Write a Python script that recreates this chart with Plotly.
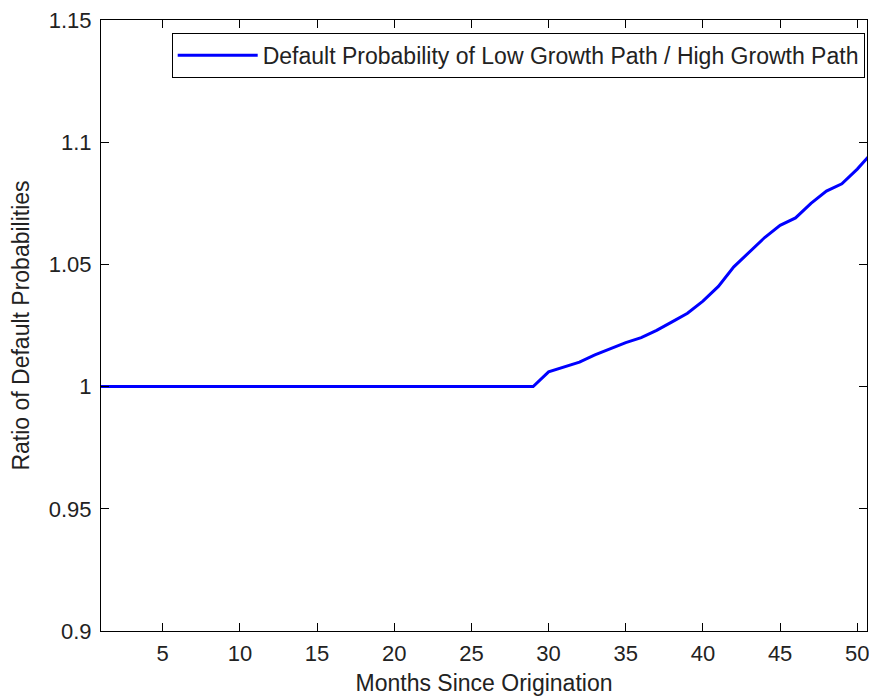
import plotly.graph_objects as go

months = list(range(1, 52))
ratio = [1.0] * 29 + [
    1.006, 1.008, 1.010, 1.013, 1.0155, 1.018, 1.020, 1.023, 1.0265, 1.030,
    1.035, 1.041, 1.049, 1.055, 1.061, 1.066, 1.069, 1.075, 1.080, 1.083,
    1.089, 1.096,
]
series_name = "Default Probability of Low Growth Path / High Growth Path"
x_ticks = [5, 10, 15, 20, 25, 30, 35, 40, 45, 50]
y_ticks = [0.9, 0.95, 1.0, 1.05, 1.1, 1.15]
y_tick_text = ["0.9", "0.95", "1", "1.05", "1.1", "1.15"]

FONT = "Liberation Sans, Arial, sans-serif"

fig = go.Figure()
fig.add_trace(go.Scatter(
    x=months, y=ratio, mode="lines", name=series_name,
    line=dict(color="#0000FF", width=3),
))

axis_common = dict(
    showgrid=False, zeroline=False, showline=True, linecolor="#000",
    linewidth=1, mirror="ticks", ticks="inside", ticklen=8,
    tickcolor="#000", tickwidth=1, ticklabeloverflow="allow",
    tickfont=dict(family=FONT, size=22, color="#222"),
)

fig.update_layout(
    width=869, height=696,
    margin=dict(l=101, r=0, t=20, b=65),
    plot_bgcolor="white", paper_bgcolor="white",
    font=dict(family=FONT, size=23, color="#222"),
    showlegend=True,
    legend=dict(
        x=0.997, y=0.979, xanchor="right", yanchor="top",
        bgcolor="white", bordercolor="#000", borderwidth=1,
        itemwidth=80,
        font=dict(family=FONT, size=23, color="#222"),
    ),
    xaxis=dict(
        range=[1, 50.63], tickvals=x_ticks, ticklabelstandoff=3, **axis_common,
        title=dict(text="Months Since Origination", standoff=9,
                   font=dict(family=FONT, size=23, color="#222")),
    ),
    yaxis=dict(
        range=[0.9, 1.15], tickvals=y_ticks, ticktext=y_tick_text,
        ticklabelstandoff=4, **axis_common,
        title=dict(text="Ratio of Default Probabilities", standoff=12,
                   font=dict(family=FONT, size=23, color="#222")),
    ),
)

fig.write_html("out.html")
